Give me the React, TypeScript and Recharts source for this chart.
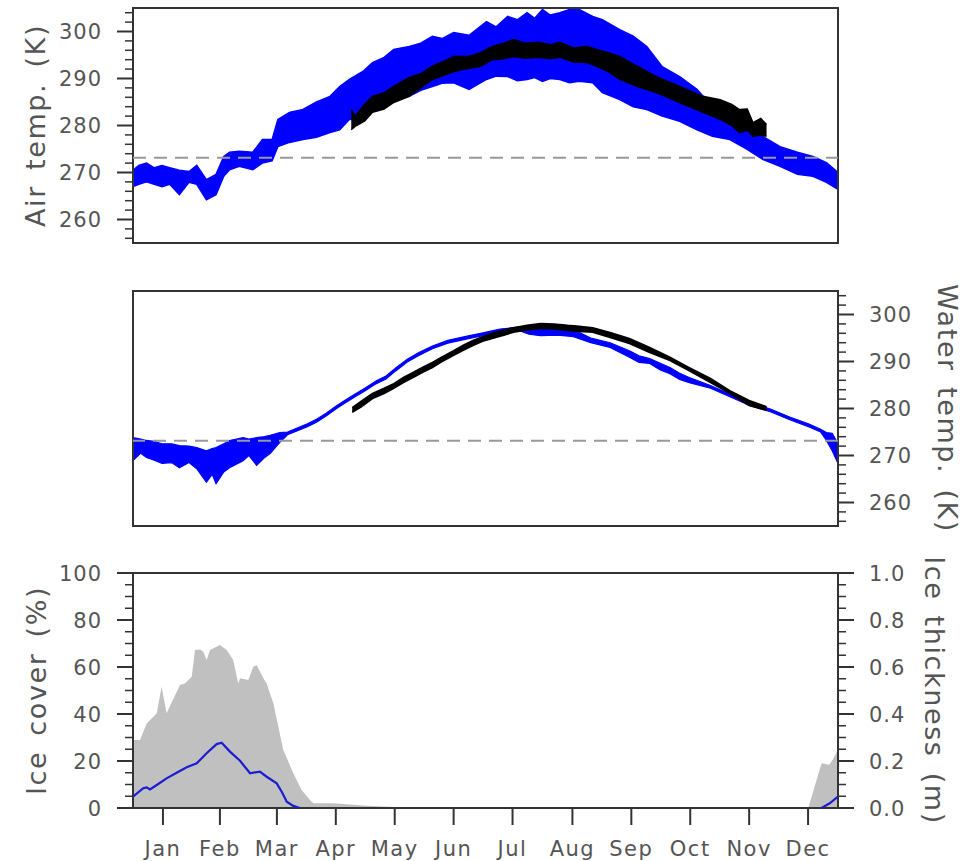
import React from "react";
import {
  ComposedChart,
  Area,
  Line,
  XAxis,
  YAxis,
  ReferenceLine,
  ReferenceArea,
} from "recharts";

const FONT = "'DejaVu Sans', sans-serif";
const INK = "#555";
const FRAME = "#333";
const FREEZE = 273.15;

// air temperature: blue = simulated spread (low/high), black = observed
const airDays = [0, 3, 7, 11, 15, 19, 24, 29, 33, 38, 43, 47, 50, 55, 62, 67, 72, 75, 81, 88, 95, 102, 107, 112, 119, 124, 130, 135, 143, 149, 155, 160, 166, 174, 183, 188, 194, 199, 204, 208, 212, 216, 221, 226, 231, 238, 243, 252, 259, 266, 274, 283, 292, 300, 309, 318, 326, 335, 344, 352, 359, 365];
const airHigh = [270.5, 271.5, 272, 271, 271.5, 271, 270.5, 270.2, 271.5, 268.5, 269.6, 273.4, 274.3, 274.5, 274.3, 277, 277, 281.3, 282.8, 283.4, 285, 286.2, 288.3, 289.8, 291.5, 293.4, 294.5, 296.2, 296.8, 297.5, 299, 298.5, 299.8, 299.2, 302.1, 301, 303.2, 302.5, 304, 302.8, 304.7, 303.5, 304, 304.7, 304.7, 303.2, 302.5, 300.4, 299, 296.8, 292.5, 290.4, 287.7, 284, 282, 279.8, 277.7, 275.5, 274.3, 273.4, 272.1, 270];
const airLow = [267, 267.5, 268, 267.5, 267, 267.5, 265.3, 267.9, 267.5, 264.2, 265.3, 269.2, 270.6, 271.3, 270.6, 272, 272.5, 275.5, 276.4, 277, 277.5, 278.5, 279.1, 281.3, 281.5, 284, 285, 285.5, 286.2, 287.5, 288.3, 289, 289.1, 287.7, 289.8, 290.5, 290.4, 289.5, 289.8, 290.2, 289.4, 290, 289.8, 289.1, 289.4, 289.1, 287, 285.5, 284, 283.4, 282, 280.9, 279.1, 277.7, 277, 274.9, 272.8, 271.3, 269.6, 269.2, 267.9, 266.4];

const obsAirDays = [113, 115, 120, 124, 130, 135, 143, 149, 155, 160, 166, 174, 180, 186, 192, 197, 203, 210, 216, 221, 228, 235, 240, 246, 252, 261, 271, 283, 295, 304, 310, 314, 318, 321, 325, 328];
const obsAirHigh = [283.4, 282, 284.5, 286.2, 287, 288.3, 290.2, 291, 292.6, 293.5, 294.7, 294.7, 295.5, 296.8, 297.5, 298.3, 297.5, 297.7, 297.2, 297.7, 296.5, 296.8, 296.2, 295.5, 294.7, 292.6, 290.4, 288.3, 286.2, 285.5, 284.5, 283.4, 283.5, 280.6, 281.5, 280.2];
const obsAirLow = [279.1, 279.8, 281, 282.8, 283.5, 284.9, 286.2, 288, 289.8, 290.5, 291.5, 292.2, 292.6, 294, 294.2, 294.7, 294.3, 294.5, 294.2, 294.5, 293.5, 293.4, 292.6, 291.5, 289.8, 288.3, 287, 284.9, 282.8, 281.3, 280, 278.5, 279, 277.7, 278, 277.7];

// water temperature
const waterDays = [0, 4, 7, 11, 15, 20, 24, 29, 33, 38, 41, 43, 47, 50, 57, 60, 64, 68, 71, 76, 80, 90, 95, 100, 105, 110, 115, 120, 126, 131, 136, 142, 148, 155, 163, 173, 180, 190, 199, 205, 211, 220, 228, 237, 247, 257, 262, 267.5, 273, 278, 283, 288, 299, 309, 319, 330, 340, 350, 356, 359, 362, 365];
const waterHigh = [273.8, 273.5, 273.2, 273, 272.5, 272.5, 272.1, 272, 271.7, 271, 271.5, 271.7, 272.5, 273.2, 273.8, 273.5, 273.8, 274, 274.3, 274.9, 275, 276.7, 277.7, 279, 280.5, 281.8, 283.1, 284.3, 285.9, 286.9, 288.6, 290.5, 291.9, 293.3, 294.5, 295.4, 296, 296.9, 297.3, 297.2, 297, 296.8, 296.8, 295, 294, 292.3, 291.2, 290.6, 289.6, 288.7, 287.5, 286.6, 284.9, 283.1, 281.3, 279.9, 278.2, 276.7, 275.6, 274.9, 274.7, 272.5];
const waterLow = [268.9, 270.5, 269.6, 269, 268.3, 268.5, 267.4, 268.5, 267.2, 264.3, 266, 264, 266.5, 267.4, 268.9, 270, 267.9, 269.5, 270.4, 272.8, 274.4, 276.1, 277.1, 278.4, 279.9, 281.2, 282.5, 283.7, 285.3, 286.3, 288, 289.9, 291.3, 292.7, 293.9, 294.8, 295.4, 296.3, 296.7, 295.8, 295.5, 295.6, 295.3, 294, 293, 290.9, 289.8, 289.6, 288.2, 287.4, 286.2, 285.5, 284.3, 282.5, 280.7, 279.3, 277.6, 276.1, 275, 273.2, 271, 268.3];

const obsWaterDays = [113.5, 118, 124, 130, 135, 140, 145, 150, 155, 160, 166, 171, 176, 181, 186, 192, 197, 204, 211, 218, 225, 231, 238, 247, 257, 267.5, 278, 288, 299, 309, 319, 328];
const obsWaterHigh = [280.2, 281.5, 283.2, 284.3, 285.3, 286.6, 287.7, 288.8, 289.8, 291, 292.3, 293.5, 294.5, 295.3, 296, 296.7, 297.2, 297.7, 298.1, 298, 297.7, 297.5, 297.2, 296.2, 294.9, 293, 290.9, 288.7, 286.4, 283.8, 281.7, 280.4];
const obsWaterLow = [279.2, 280.3, 282.1, 283.2, 284.3, 285.5, 286.6, 287.7, 288.7, 290, 291.3, 292.4, 293.4, 294.3, 294.9, 295.6, 296.2, 296.7, 297, 296.9, 296.6, 296.4, 296.2, 295.1, 293.8, 291.9, 290.2, 288, 285.5, 283.2, 280.6, 279.6];

// ice cover (%) and ice thickness (m)
const coverDays = [0, 3.6, 7.1, 12.3, 14.8, 17.4, 24.3, 26.9, 30.4, 32.1, 34.7, 36.4, 38.1, 39.9, 45, 48.5, 51.9, 54.5, 55.4, 59.7, 62.3, 64, 67.5, 69.2, 72.7, 77.8, 83, 87.3, 91.6, 93.4, 103.7, 121, 138, 150, 349.6, 356.5, 360.5, 362.4, 365];
const coverPct = [28.9, 28.9, 36, 40.3, 51.6, 40.3, 52.3, 53, 55.9, 67.2, 67.5, 66.5, 63, 67.2, 69.4, 67.2, 63, 53, 55.2, 54.5, 60.1, 60.9, 55.2, 53, 44.5, 24.7, 14.8, 7.7, 3.4, 2, 2, 1, 0.3, 0, 0, 19, 18.4, 20.7, 24.7];

const thickDays = [0, 5.3, 7.1, 8.8, 12.3, 17.4, 22.6, 27.8, 33, 38.1, 43.3, 45.9, 50.2, 55.4, 60.6, 65.7, 69.2, 74.4, 77, 79.6, 83, 86.4, 200, 356.5, 360.7, 365];
const thickM = [0.048, 0.084, 0.088, 0.079, 0.098, 0.126, 0.15, 0.173, 0.19, 0.233, 0.272, 0.278, 0.24, 0.201, 0.148, 0.155, 0.133, 0.105, 0.069, 0.027, 0.009, 0, null, 0, 0.02, 0.048];

const tempTicks = [256, 258, 260, 262, 264, 266, 268, 270, 272, 274, 276, 278, 280, 282, 284, 286, 288, 290, 292, 294, 296, 298, 300, 302, 304];
const coverTicks = [0, 5, 10, 15, 20, 25, 30, 35, 40, 45, 50, 55, 60, 65, 70, 75, 80, 85, 90, 95, 100];
const thickTicks = [0, 0.05, 0.1, 0.15, 0.2, 0.25, 0.3, 0.35, 0.4, 0.45, 0.5, 0.55, 0.6, 0.65, 0.7, 0.75, 0.8, 0.85, 0.9, 0.95, 1];
const monthDays = [15.5, 45, 74.5, 105, 135.5, 166, 196.5, 227.5, 258, 288.5, 319, 349.5];
const monthNames = ["Jan", "Feb", "Mar", "Apr", "May", "Jun", "Jul", "Aug", "Sep", "Oct", "Nov", "Dec"];

const band = (days: number[], lo: number[], hi: number[]) =>
  days.map((day, i) => ({ day, band: [lo[i], hi[i]] }));
const series = (days: number[], vals: (number | null)[]) =>
  days.map((day, i) => ({ day, v: vals[i] }));

const airBand = band(airDays, airLow, airHigh);
const obsAirBand = band(obsAirDays, obsAirLow, obsAirHigh);
const waterBand = band(waterDays, waterLow, waterHigh);
const obsWaterBand = band(obsWaterDays, obsWaterLow, obsWaterHigh);
const coverData = series(coverDays, coverPct);
const thickData = series(thickDays, thickM);

function sideTick(side: "left" | "right", major: number, fmt: (v: number) => string) {
  return (p: any) => {
    const v = p.payload.value;
    const isMajor = Math.abs(v / major - Math.round(v / major)) < 1e-6;
    const d = side === "left" ? -1 : 1;
    return (
      <g>
        <line x1={p.x} x2={p.x + d * (isMajor ? 16 : 8)} y1={p.y} y2={p.y} stroke={FRAME} strokeWidth={isMajor ? 2 : 1.5} />
        {isMajor && (
          <text x={p.x + d * 31} y={p.y} dy="0.36em" textAnchor={side === "left" ? "end" : "start"}
            fontSize={21} fill={INK} fontFamily={FONT} letterSpacing={1}>
            {fmt(v)}
          </text>
        )}
      </g>
    );
  };
}

function axisTitle(text: string, side: "left" | "right", cx: number) {
  return {
    content: (p: any) => {
      const vb = p.viewBox;
      const cy = vb.y + vb.height / 2;
      const angle = side === "left" ? -90 : 90;
      return (
        <text x={cx} y={cy} transform={`rotate(${angle} ${cx} ${cy})`} textAnchor="middle"
          dominantBaseline="central" fontSize={27} fill={INK} fontFamily={FONT}
          letterSpacing={1.6} wordSpacing={5}>
          {text}
        </text>
      );
    },
  };
}

const pos = (top: number): React.CSSProperties => ({ position: "absolute", left: 0, top });

export default function App() {
  return (
    <div style={{ position: "absolute", left: 0, top: 0, width: 977, height: 861, background: "#fff" }}>
      <div style={pos(0)}>
        <ComposedChart width={977} height={260} margin={{ top: 8, right: 139, bottom: 17, left: 33 }}>
          <XAxis type="number" dataKey="day" domain={[0, 365]} hide allowDataOverflow />
          <YAxis yAxisId="t" type="number" domain={[255, 305]} allowDataOverflow width={100}
            ticks={tempTicks} interval={0} tickSize={0} tickMargin={0} tickLine={false} axisLine={false}
            tick={sideTick("left", 10, (v) => String(v))} label={axisTitle("Air temp. (K)", "left", 35)} />
          <ReferenceLine yAxisId="t" y={FREEZE} stroke="#999" strokeWidth={2} strokeDasharray="13 8" />
          <Area yAxisId="t" data={airBand} dataKey="band" type="linear" fill="#0000ff" fillOpacity={1}
            stroke="#0000ff" strokeWidth={1.5} isAnimationActive={false} />
          <Area yAxisId="t" data={obsAirBand} dataKey="band" type="linear" fill="#000" fillOpacity={1}
            stroke="#000" strokeWidth={1.5} isAnimationActive={false} />
          <ReferenceArea yAxisId="t" x1={0} x2={365} y1={255} y2={305} fill="none" stroke={FRAME} strokeWidth={2} />
        </ComposedChart>
      </div>

      <div style={pos(270)}>
        <ComposedChart width={977} height={270} margin={{ top: 21, right: 39, bottom: 14, left: 133 }}>
          <XAxis type="number" dataKey="day" domain={[0, 365]} hide allowDataOverflow />
          <YAxis yAxisId="w" orientation="right" type="number" domain={[255, 305]} allowDataOverflow width={100}
            ticks={tempTicks} interval={0} tickSize={0} tickMargin={0} tickLine={false} axisLine={false}
            tick={sideTick("right", 10, (v) => String(v))} label={axisTitle("Water temp. (K)", "right", 947)} />
          <ReferenceLine yAxisId="w" y={FREEZE} stroke="#999" strokeWidth={2} strokeDasharray="13 8" />
          <Area yAxisId="w" data={waterBand} dataKey="band" type="linear" fill="#0000ff" fillOpacity={1}
            stroke="#0000ff" strokeWidth={1.2} isAnimationActive={false} />
          <Area yAxisId="w" data={obsWaterBand} dataKey="band" type="linear" fill="#000" fillOpacity={1}
            stroke="#000" strokeWidth={1.5} isAnimationActive={false} />
          <ReferenceArea yAxisId="w" x1={0} x2={365} y1={255} y2={305} fill="none" stroke={FRAME} strokeWidth={2} />
        </ComposedChart>
      </div>

      <div style={pos(545)}>
        <ComposedChart width={977} height={316} margin={{ top: 28, right: 39, bottom: 8, left: 33 }}>
          <XAxis type="number" dataKey="day" domain={[0, 365]} allowDataOverflow height={45}
            ticks={monthDays} interval={0} tickSize={17} tickMargin={16} axisLine={false}
            tickLine={{ stroke: FRAME, strokeWidth: 2 }}
            tickFormatter={(v: number) => monthNames[monthDays.indexOf(v)]}
            tick={{ fill: INK, fontSize: 21, fontFamily: FONT, letterSpacing: 1.5 }} />
          <YAxis yAxisId="c" type="number" domain={[0, 100]} allowDataOverflow width={100}
            ticks={coverTicks} interval={0} tickSize={0} tickMargin={0} tickLine={false} axisLine={false}
            tick={sideTick("left", 20, (v) => String(v))} label={axisTitle("Ice cover (%)", "left", 36)} />
          <YAxis yAxisId="m" orientation="right" type="number" domain={[0, 1]} allowDataOverflow width={100}
            ticks={thickTicks} interval={0} tickSize={0} tickMargin={0} tickLine={false} axisLine={false}
            tick={sideTick("right", 0.2, (v) => v.toFixed(1))} label={axisTitle("Ice thickness (m)", "right", 934)} />
          <Area yAxisId="c" data={coverData} dataKey="v" type="linear" fill="#c0c0c0" fillOpacity={1}
            stroke="none" isAnimationActive={false} />
          <Line yAxisId="m" data={thickData} dataKey="v" type="linear" stroke="#1c1cd0" strokeWidth={2.2}
            dot={false} isAnimationActive={false} />
          <ReferenceArea yAxisId="c" x1={0} x2={365} y1={0} y2={100} fill="none" stroke={FRAME} strokeWidth={2} />
        </ComposedChart>
      </div>
    </div>
  );
}
